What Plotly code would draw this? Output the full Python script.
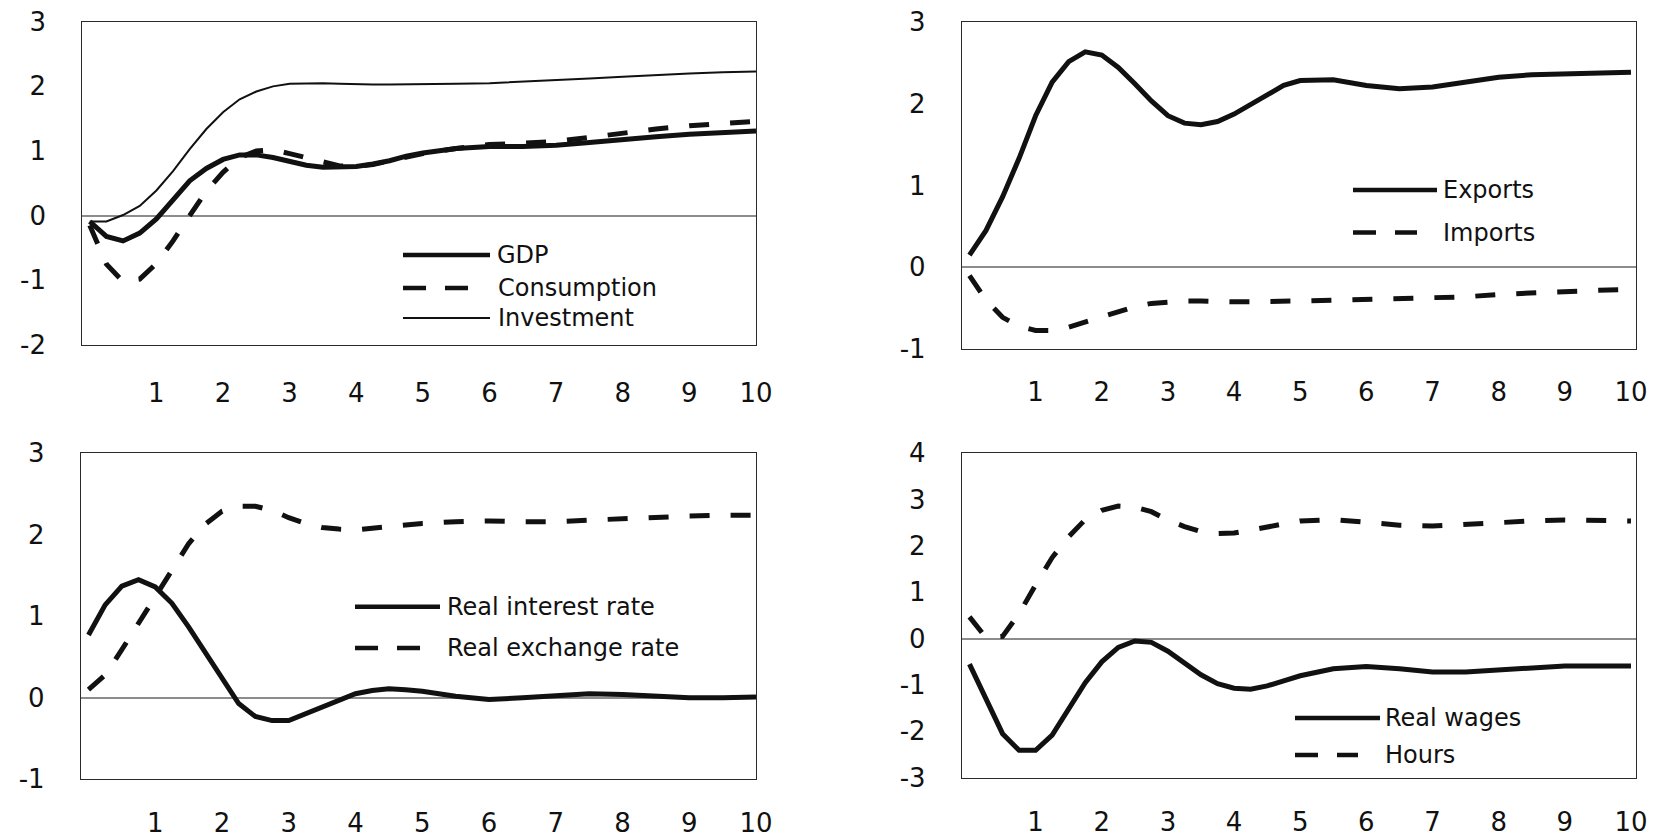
import plotly.graph_objects as go

# The page body adds an 8px margin, so the figure is drawn 8px smaller and
# every reference pixel position is shifted by OFF.
OFF = 8
W, H = 1668 - OFF, 837 - OFF

# ---------------- data (years after shock) ----------------
X = [0, 0.25, 0.5, 0.75, 1, 1.25, 1.5, 1.75, 2, 2.25, 2.5, 2.75, 3, 3.25, 3.5, 3.75,
     4, 4.25, 4.5, 4.75, 5, 5.5, 6, 6.5, 7, 7.5, 8, 8.5, 9, 9.5, 10]

gdp = [-0.09, -0.32, -0.39, -0.27, -0.05, 0.24, 0.54, 0.73, 0.87, 0.94, 0.94, 0.90, 0.83, 0.78, 0.75, 0.75,
       0.76, 0.80, 0.85, 0.92, 0.97, 1.04, 1.07, 1.07, 1.09, 1.13, 1.18, 1.22, 1.26, 1.29, 1.31]
consumption = [-0.15, -0.75, -1.02, -0.98, -0.74, -0.39, 0.00, 0.38, 0.67, 0.90, 1.00, 1.02, 0.96, 0.90, 0.84, 0.77,
               0.76, 0.79, 0.85, 0.91, 0.96, 1.04, 1.10, 1.12, 1.15, 1.21, 1.28, 1.34, 1.39, 1.43, 1.46]
investment = [-0.09, -0.09, 0.01, 0.15, 0.39, 0.69, 1.03, 1.34, 1.60, 1.80, 1.92, 2.00, 2.04, 2.05, 2.05, 2.04,
              2.03, 2.03, 2.03, 2.03, 2.03, 2.04, 2.05, 2.07, 2.09, 2.12, 2.15, 2.18, 2.20, 2.22, 2.23]

exports = [0.15, 0.45, 0.86, 1.33, 1.85, 2.26, 2.51, 2.63, 2.59, 2.44, 2.24, 2.03, 1.85, 1.76, 1.74, 1.78,
           1.87, 1.99, 2.11, 2.22, 2.28, 2.29, 2.22, 2.18, 2.20, 2.26, 2.32, 2.35, 2.36, 2.37, 2.38]
imports = [-0.10, -0.40, -0.61, -0.72, -0.77, -0.77, -0.73, -0.67, -0.61, -0.54, -0.48, -0.44, -0.42, -0.41, -0.41, -0.42,
           -0.42, -0.42, -0.42, -0.41, -0.41, -0.40, -0.39, -0.39, -0.38, -0.36, -0.33, -0.31, -0.30, -0.28, -0.27]

real_interest = [0.77, 1.14, 1.37, 1.45, 1.36, 1.16, 0.87, 0.55, 0.23, -0.07, -0.23, -0.28, -0.28, -0.20, -0.11, -0.03,
                 0.05, 0.09, 0.11, 0.10, 0.08, 0.02, -0.02, 0.00, 0.03, 0.05, 0.04, 0.02, 0.00, 0.00, 0.01]
real_exchange = [0.10, 0.28, 0.59, 0.92, 1.25, 1.57, 1.89, 2.13, 2.29, 2.35, 2.35, 2.30, 2.21, 2.14, 2.09, 2.07,
                 2.06, 2.08, 2.10, 2.12, 2.14, 2.16, 2.17, 2.16, 2.16, 2.18, 2.20, 2.22, 2.23, 2.24, 2.24]

real_wages = [-0.55, -1.32, -2.05, -2.41, -2.41, -2.08, -1.52, -0.95, -0.50, -0.19, -0.05, -0.08, -0.27, -0.53, -0.78, -0.97,
              -1.07, -1.09, -1.02, -0.91, -0.80, -0.65, -0.60, -0.65, -0.72, -0.72, -0.67, -0.62, -0.59, -0.59, -0.59]
hours = [0.47, 0.02, 0.05, 0.54, 1.16, 1.75, 2.20, 2.57, 2.77, 2.86, 2.84, 2.74, 2.56, 2.42, 2.31, 2.27,
         2.28, 2.34, 2.42, 2.48, 2.54, 2.57, 2.52, 2.45, 2.43, 2.47, 2.52, 2.54, 2.56, 2.56, 2.54]

x_tickvals = [1, 2, 3, 4, 5, 6, 7, 8, 9, 10]
x_ticktext = ["1", "2", "3", "4", "5", "6", "7", "8", "9", "10"]
y_ticks_1 = ([-2, -1, 0, 1, 2, 3], ["-2", "-1", "0", "1", "2", "3"])
y_ticks_2 = ([-1, 0, 1, 2, 3], ["-1", "0", "1", "2", "3"])
y_ticks_3 = ([-1, 0, 1, 2, 3], ["-1", "0", "1", "2", "3"])
y_ticks_4 = ([-3, -2, -1, 0, 1, 2, 3, 4], ["-3", "-2", "-1", "0", "1", "2", "3", "4"])

# ---------------- styling ----------------
INK = "#111111"
FONT = "DejaVu Sans"
THICK = dict(color=INK, width=5)
THIN = dict(color=INK, width=2)
DASHED = dict(color=INK, width=5, dash="20px,21px")

# panel boxes in reference pixels: (left, top, right, bottom)
panels = [
    dict(box=(82.3, 21.7, 756, 345), xr=[-0.112, 10.0], yr=[-2, 3], yt=y_ticks_1, xlab=25),
    dict(box=(962, 21.5, 1636, 349.3), xr=[-0.113, 10.076], yr=[-1, 3], yt=y_ticks_2, xlab=19),
    dict(box=(81, 453.3, 756, 779.3), xr=[-0.112, 10.0], yr=[-1, 3], yt=y_ticks_3, xlab=20),
    dict(box=(962, 453.3, 1636, 777.7), xr=[-0.113, 10.076], yr=[-3, 4], yt=y_ticks_4, xlab=21),
]

series = [
    (1, gdp, THICK), (1, consumption, DASHED), (1, investment, THIN),
    (2, exports, THICK), (2, imports, DASHED),
    (3, real_interest, THICK), (3, real_exchange, DASHED),
    (4, real_wages, THICK), (4, hours, DASHED),
]

# legend entries: (label, style, x0, x1, y, text_x) in reference pixels
legend_items = [
    ("GDP", THICK, 403, 490, 255, 495),
    ("Consumption", DASHED, 403, 470, 288, 496),
    ("Investment", THIN, 403, 490, 318, 496),
    ("Exports", THICK, 1353, 1437, 190, 1441),
    ("Imports", DASHED, 1353, 1417, 232.6, 1441),
    ("Real interest rate", THICK, 355, 440, 606.7, 445),
    ("Real exchange rate", DASHED, 355, 422, 648, 445),
    ("Real wages", THICK, 1295, 1380, 718, 1383),
    ("Hours", DASHED, 1295, 1358, 755, 1383),
]


def fx(p):
    return (p - OFF) / W


def fy(p):
    return 1 - (p - OFF) / H


fig = go.Figure()

for i, p in enumerate(panels, start=1):
    sfx = "" if i == 1 else str(i)
    l, t, r, b = p["box"]
    axis_common = dict(showline=True, mirror=True, linecolor="#2a2a2a", linewidth=1.3,
                       ticks="", showgrid=False, automargin=False, ticklabeloverflow="allow",
                       tickfont=dict(family=FONT, size=26, color=INK))
    fig.update_layout(**{
        f"xaxis{sfx}": dict(axis_common, domain=[fx(l), fx(r)], range=p["xr"], anchor=f"y{sfx}",
                            tickmode="array", tickvals=x_tickvals, ticktext=x_ticktext,
                            zeroline=False, ticklabelstandoff=p["xlab"]),
        f"yaxis{sfx}": dict(axis_common, domain=[fy(b), fy(t)], range=p["yr"], anchor=f"x{sfx}",
                            tickmode="array", tickvals=p["yt"][0], ticktext=p["yt"][1],
                            zeroline=True, zerolinecolor="#8c8c8c", zerolinewidth=1.6,
                            ticklabelstandoff=30),
    })

for panel, vals, style in series:
    sfx = "" if panel == 1 else str(panel)
    fig.add_trace(go.Scatter(x=X, y=vals, mode="lines", line=style, showlegend=False,
                             hoverinfo="skip", xaxis=f"x{sfx}", yaxis=f"y{sfx}"))

dash_legend = "23px,19px"
for label, style, x0, x1, y, tx in legend_items:
    line = dict(color=style["color"], width=style["width"] - (0.5 if style["width"] > 3 else 0.2))
    if "dash" in style:
        line["dash"] = dash_legend
    fig.add_shape(type="line", xref="paper", yref="paper",
                  x0=fx(x0), x1=fx(x1), y0=fy(y), y1=fy(y), line=line)
    fig.add_annotation(text=label, xref="paper", yref="paper", x=fx(tx), y=fy(y),
                       xanchor="left", yanchor="middle", showarrow=False,
                       font=dict(family=FONT, size=24, color=INK))

fig.update_layout(width=W, height=H, margin=dict(l=0, r=0, t=0, b=0, autoexpand=False),
                  paper_bgcolor="white", plot_bgcolor="white",
                  font=dict(family=FONT, color=INK), showlegend=False)

fig.write_html("out.html")
